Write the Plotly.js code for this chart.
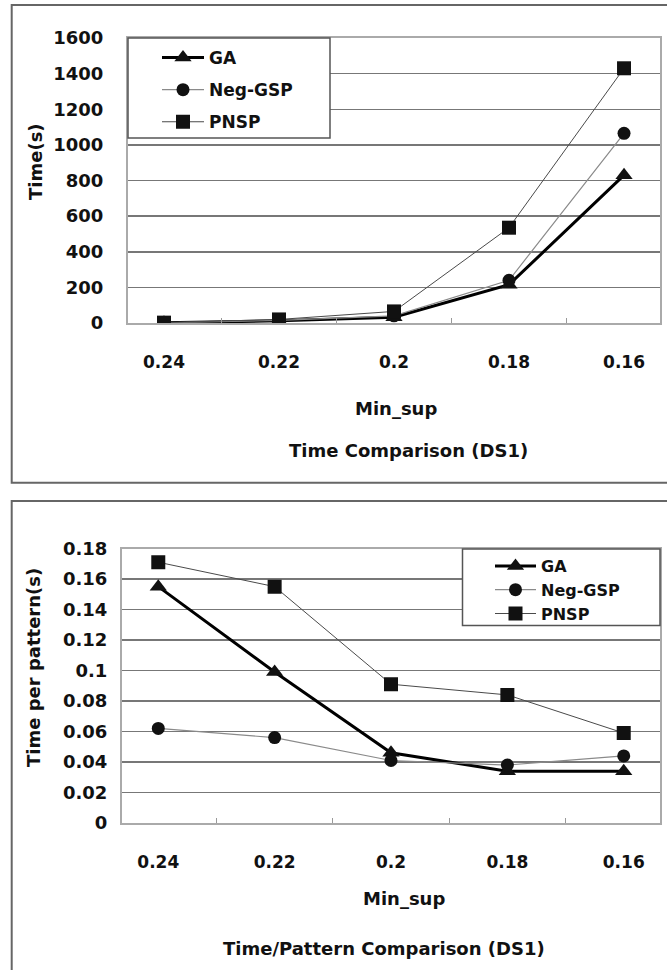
<!DOCTYPE html>
<html>
<head>
<meta charset="utf-8">
<script src="https://cdn.plot.ly/plotly-3.0.1.min.js"></script>
<style>
  html, body { margin: 0; padding: 0; background: #fff; }
  #chart { width: 667px; height: 970px; }
</style>
</head>
<body>
<div id="chart"></div>
<script>
// Minimum support levels (category axis, left to right)
const minSup = ['0.24', '0.22', '0.2', '0.18', '0.16'];

// Total run time in seconds (DS1)
const timeGA = [1, 12, 32, 215, 830];
const timeNegGSP = [1, 15, 40, 240, 1065];
const timePNSP = [2, 20, 65, 535, 1430];

// Run time per discovered pattern in seconds (DS1)
const perPatternGA = [0.155, 0.099, 0.046, 0.034, 0.034];
const perPatternNegGSP = [0.062, 0.056, 0.041, 0.038, 0.044];
const perPatternPNSP = [0.171, 0.155, 0.091, 0.084, 0.059];

// Y-axis tick values and labels
const timeTicks = [0, 200, 400, 600, 800, 1000, 1200, 1400, 1600];
const timeTickText = ['0', '200', '400', '600', '800', '1000', '1200', '1400', '1600'];
const perPatternTicks = [0, 0.02, 0.04, 0.06, 0.08, 0.1, 0.12, 0.14, 0.16, 0.18];
const perPatternTickText = ['0', '0.02', '0.04', '0.06', '0.08', '0.1', '0.12', '0.14', '0.16', '0.18'];

const W = 667, H = 970;
const px = v => v / W;          // pixel -> paper x
const py = v => 1 - v / H;      // pixel -> paper y

const FONT = 'DejaVu Sans, Arial, sans-serif';
const INK = '#111';
const boldFont = size => ({ family: FONT, size: size, color: INK, weight: 'bold' });

const styleGA = { line: { color: '#000', width: 3 }, marker: { symbol: 'triangle-up', size: 15, color: INK } };
const styleNeg = { line: { color: '#8a8a8a', width: 1.2 }, marker: { symbol: 'circle', size: 13, color: INK } };
const stylePNSP = { line: { color: '#4a4a4a', width: 1 }, marker: { symbol: 'square', size: 14, color: INK } };

function series(name, y, style, xa, ya, legend, group) {
  return Object.assign({
    type: 'scatter', mode: 'lines+markers', name: name,
    x: minSup, y: y, xaxis: xa, yaxis: ya, legend: legend, legendgroup: group
  }, style);
}

const traces = [
  series('GA', timeGA, styleGA, 'x', 'y', 'legend', 'a1'),
  series('Neg-GSP', timeNegGSP, styleNeg, 'x', 'y', 'legend', 'a2'),
  series('PNSP', timePNSP, stylePNSP, 'x', 'y', 'legend', 'a3'),
  series('GA', perPatternGA, styleGA, 'x2', 'y2', 'legend2', 'b1'),
  series('Neg-GSP', perPatternNegGSP, styleNeg, 'x2', 'y2', 'legend2', 'b2'),
  series('PNSP', perPatternPNSP, stylePNSP, 'x2', 'y2', 'legend2', 'b3')
];

function xAxis(domain, anchor) {
  return {
    domain: domain, anchor: anchor, type: 'category',
    categoryorder: 'array', categoryarray: minSup,
    tickson: 'boundaries', ticks: 'inside', ticklen: 5, tickcolor: '#999', tickwidth: 1,
    showline: true, linecolor: '#aaa', linewidth: 2, mirror: true,
    showgrid: false, zeroline: false,
    tickfont: boldFont(17), ticklabelstandoff: 23, fixedrange: true
  };
}
function yAxis(domain, anchor, range, vals, text, standoff) {
  return {
    domain: domain, anchor: anchor, range: range,
    tickmode: 'array', tickvals: vals, ticktext: text, ticks: '',
    showline: true, linecolor: '#aaa', linewidth: 2, mirror: true,
    showgrid: true, gridcolor: '#777', gridwidth: 1.5, zeroline: false,
    tickfont: boldFont(18), ticklabelstandoff: standoff, fixedrange: true
  };
}

const layout = {
  width: W, height: H,
  margin: { l: 0, r: 0, t: 0, b: 0 },
  paper_bgcolor: '#fff', plot_bgcolor: '#fff',
  showlegend: true,
  xaxis: xAxis([px(128), px(660)], 'y'),
  yaxis: yAxis([py(323), py(38)], 'x', [0, 1600], timeTicks, timeTickText, 19),
  xaxis2: xAxis([px(122), px(660)], 'y2'),
  yaxis2: yAxis([py(823), py(548.5)], 'x2', [0, 0.18], perPatternTicks, perPatternTickText, 9),
  legend: {
    x: px(157), xanchor: 'left', y: py(40), yanchor: 'top',
    bgcolor: 'rgba(0,0,0,0)', borderwidth: 0,
    font: boldFont(17), itemwidth: 42,
    traceorder: 'grouped', tracegroupgap: 7
  },
  legend2: {
    x: px(490), xanchor: 'left', y: py(549), yanchor: 'top',
    bgcolor: 'rgba(0,0,0,0)', borderwidth: 0,
    font: boldFont(16), itemwidth: 41,
    traceorder: 'grouped', tracegroupgap: 0
  },
  shapes: [
    // outer frames of the two panels
    { type: 'rect', xref: 'paper', yref: 'paper', x0: px(11.7), x1: px(690), y0: py(482.7), y1: py(5),
      line: { color: '#666', width: 2 }, fillcolor: 'rgba(0,0,0,0)', layer: 'below' },
    { type: 'rect', xref: 'paper', yref: 'paper', x0: px(11.7), x1: px(690), y0: py(990), y1: py(501),
      line: { color: '#666', width: 2 }, fillcolor: 'rgba(0,0,0,0)', layer: 'below' },
    // legend boxes
    { type: 'rect', xref: 'paper', yref: 'paper', x0: px(128), x1: px(330), y0: py(138), y1: py(38),
      line: { color: '#555', width: 1.5 }, fillcolor: '#fff', layer: 'above' },
    { type: 'rect', xref: 'paper', yref: 'paper', x0: px(462.5), x1: px(660), y0: py(625.5), y1: py(549),
      line: { color: '#555', width: 1.5 }, fillcolor: '#fff', layer: 'above' }
  ],
  annotations: [
    { text: 'Time(s)', xref: 'paper', yref: 'paper', x: px(36), y: py(162), textangle: -90,
      showarrow: false, font: boldFont(18), xanchor: 'center', yanchor: 'middle' },
    { text: 'Min_sup', xref: 'paper', yref: 'paper', x: px(396), y: py(408),
      showarrow: false, font: boldFont(18), xanchor: 'center', yanchor: 'middle' },
    { text: 'Time Comparison (DS1)', xref: 'paper', yref: 'paper', x: px(408), y: py(450),
      showarrow: false, font: boldFont(18), xanchor: 'center', yanchor: 'middle' },
    { text: 'Time per pattern(s)', xref: 'paper', yref: 'paper', x: px(33), y: py(668), textangle: -90,
      showarrow: false, font: boldFont(18), xanchor: 'center', yanchor: 'middle' },
    { text: 'Min_sup', xref: 'paper', yref: 'paper', x: px(404), y: py(898),
      showarrow: false, font: boldFont(18), xanchor: 'center', yanchor: 'middle' },
    { text: 'Time/Pattern Comparison (DS1)', xref: 'paper', yref: 'paper', x: px(384), y: py(948),
      showarrow: false, font: boldFont(18), xanchor: 'center', yanchor: 'middle' }
  ]
};

Plotly.newPlot('chart', traces, layout, { displayModeBar: false, staticPlot: true });
</script>
</body>
</html>
